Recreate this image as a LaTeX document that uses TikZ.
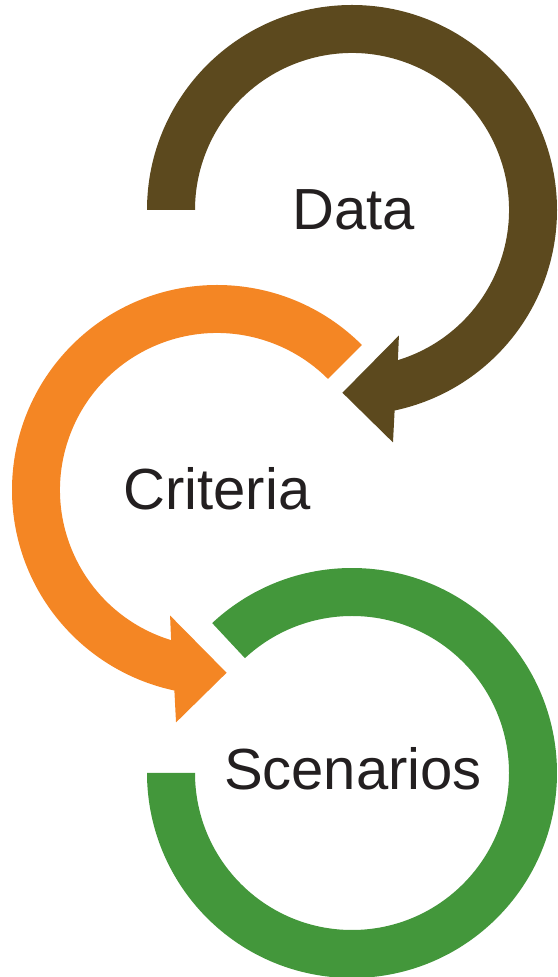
\documentclass[tikz,border=0pt]{standalone}
\usepackage{fontspec}
\setmainfont{Liberation Sans}
\definecolor{brownc}{HTML}{5C491E}
\definecolor{orangec}{HTML}{F48624}
\definecolor{greenc}{HTML}{43973B}
\definecolor{textc}{HTML}{231F20}
\begin{document}
\begin{tikzpicture}[x=1pt,y=1pt,
  lbl/.style={anchor=base,inner sep=0pt,text=textc,font=\fontsize{58}{70}\selectfont}]
\useasboundingbox (0,0) rectangle (557,977);
\coordinate (B) at (352,767);
\coordinate (O) at (217,487);
\coordinate (G) at (352,204);
% Data arrow (brown)
\fill[brownc] ([shift={(180:205)}]B) arc[start angle=180, end angle=-78, radius=205]
  -- ([shift={(-80:236)}]B) -- ([shift={(-93:183)}]B) -- ([shift={(-69.5:134)}]B)
  -- ([shift={(-73:157)}]B) arc[start angle=-73, end angle=180, radius=157] -- cycle;
% Criteria arrow (orange)
\fill[orangec] ([shift={(45:205)}]O) arc[start angle=45, end angle=258, radius=205]
  -- ([shift={(260:236)}]O) -- ([shift={(273:183)}]O) -- ([shift={(249.5:134)}]O)
  -- ([shift={(253:157)}]O) arc[start angle=253, end angle=45, radius=157] -- cycle;
% Scenarios arc (green)
\fill[greenc] ([shift={(133:205)}]G) arc[start angle=133, end angle=-180, radius=205]
  -- ([shift={(-180:157)}]G) arc[start angle=-180, end angle=133, radius=157] -- cycle;
\node[lbl] (data) at (354,747) {Data};
\node[lbl] (criteria) at (217,467) {Criteria};
\node[lbl] (scen) at (353,187) {Scenarios};
\end{tikzpicture}
\end{document}
